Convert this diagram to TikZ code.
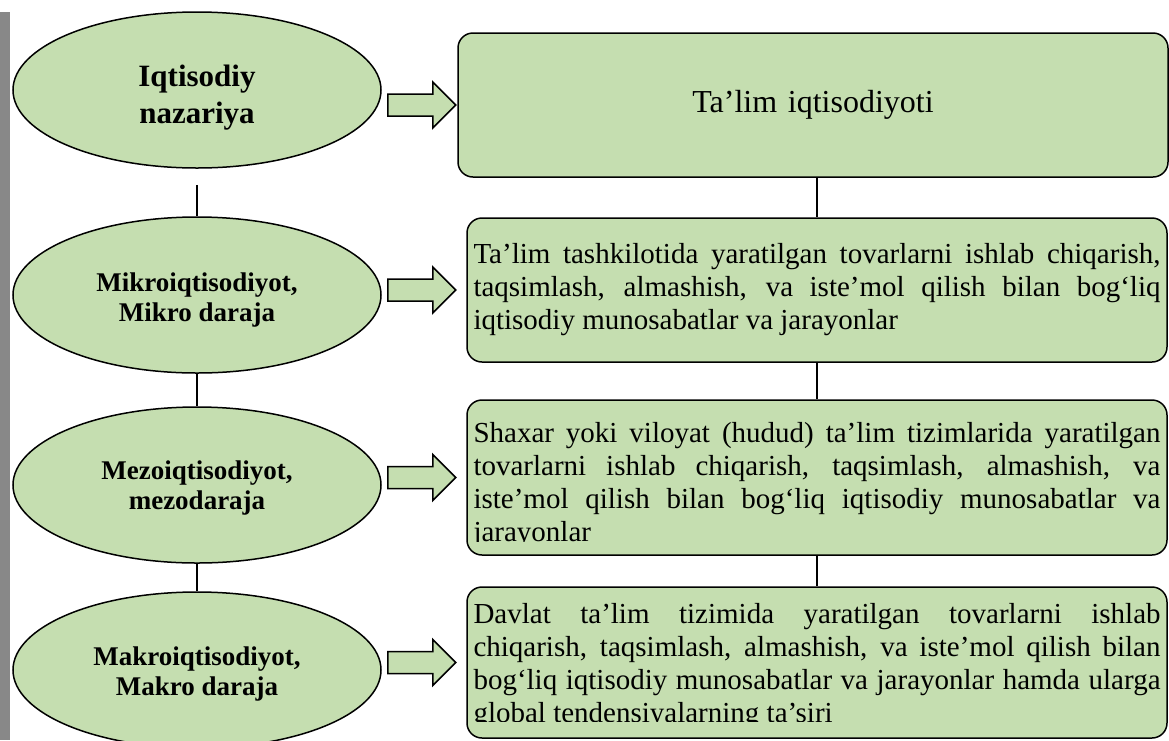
\documentclass[tikz,border=0pt]{standalone}
\usepackage{fontspec}
\setmainfont{Liberation Serif}
\usetikzlibrary{shapes.geometric,calc}
\definecolor{leaf}{RGB}{197,222,176}
\definecolor{sidebar}{RGB}{136,136,136}
\newcommand{\fatarrow}[2]{%
  \draw[fatarrowline] ($(#1.east |- #2.west)+(6,-11)$) -- ++(45,0) -- ++(0,-12)
    -- ++(23,23) -- ++(-23,23) -- ++(0,-12) -- ++(-45,0) -- cycle;}
\begin{document}
\begin{tikzpicture}[x=1pt,y=-1pt,
  level/.style={ellipse,draw,line width=1.5pt,fill=leaf,minimum width=368pt,minimum height=156pt,inner sep=0pt},
  leveltext/.style={inner sep=0pt,align=center,font=\fontsize{27pt}{30pt}\selectfont\bfseries},
  field/.style={draw,line width=1.5pt,fill=leaf,rounded corners=15pt,minimum width=700pt,
    inner xsep=6.5pt,inner ysep=0pt,text width=687pt,align=justify,font=\fontsize{29pt}{33pt}\selectfont},
  fieldtext/.style={inner sep=0pt,text width=687pt,align=justify,font=\fontsize{29pt}{33pt}\selectfont},
  link/.style={line width=1.5pt},
  fatarrowline/.style={draw,line width=1.5pt,fill=leaf,line join=miter}]
\useasboundingbox (0,0) rectangle (1169,740);
\fill[sidebar] (0,12) rectangle (10,740);
\node[level] (e1) at (197,90) {};
\node[level] (e2) at (197,295) {};
\node[level] (e3) at (197,485) {};
\node[level] (e4) at (197,670) {};
\node[leveltext,font=\fontsize{31pt}{37pt}\selectfont\bfseries] (e1t) at ([yshift=-8pt]e1) {Iqtisodiy\\nazariya};
\node[leveltext] (e2t) at ([yshift=-5pt]e2) {Mikroiqtisodiyot,\\Mikro daraja};
\node[leveltext] (e3t) at ([yshift=-3pt]e3) {Mezoiqtisodiyot,\\mezodaraja};
\node[leveltext] (e4t) at ([yshift=-4pt]e4) {Makroiqtisodiyot,\\Makro daraja};
\node[field,minimum width=710pt,text width=697pt,minimum height=144pt,align=center,
  font=\fontsize{32pt}{36pt}\selectfont] (b1) at (813,105) {Ta’lim iqtisodiyoti};
\node[field,minimum height=144pt] (b2) at (817,290) {Ta’lim tashkilotida yaratilgan tovarlarni ishlab chiqarish,\linebreak
  taqsimlash, almashish, va iste’mol qilish bilan bog‘liq\linebreak
  iqtisodiy munosabatlar va jarayonlar};
\node[field,minimum height=155pt] (b3) at (817,477.5) {};
\node[field,minimum height=151pt] (b4) at (817,662.5) {};
\begin{scope}
\clip (b3.north west) rectangle (1167,541);
\node[fieldtext] (t3) at ([yshift=-8pt]b3) {Shaxar yoki viloyat (hudud) ta’lim tizimlarida yaratilgan\linebreak
  tovarlarni ishlab chiqarish, taqsimlash, almashish, va\linebreak
  iste’mol qilish bilan bog‘liq iqtisodiy munosabatlar va\linebreak
  jarayonlar};
\end{scope}
\begin{scope}
\clip (b4.north west) rectangle (1167,721);
\node[fieldtext] (t4) at ([yshift=-4pt]b4) {Davlat ta’lim tizimida yaratilgan tovarlarni ishlab\linebreak
  chiqarish, taqsimlash, almashish, va iste’mol qilish bilan\linebreak
  bog‘liq iqtisodiy munosabatlar va jarayonlar hamda ularga\linebreak
  global tendensiyalarning ta’siri};
\end{scope}
\draw[link,shorten <=16pt] (e1.south) -- (e2.north);
\draw[link] (e2.south) -- (e3.north);
\draw[link] (e3.south) -- (e4.north);
\draw[link] (b2.north |- b1.south) -- (b2.north);
\draw[link] (b2.south) -- (b3.north);
\draw[link] (b3.south) -- (b4.north);
\fatarrow{e1}{b1}
\fatarrow{e2}{b2}
\fatarrow{e3}{b3}
\fatarrow{e4}{b4}
\end{tikzpicture}
\end{document}
